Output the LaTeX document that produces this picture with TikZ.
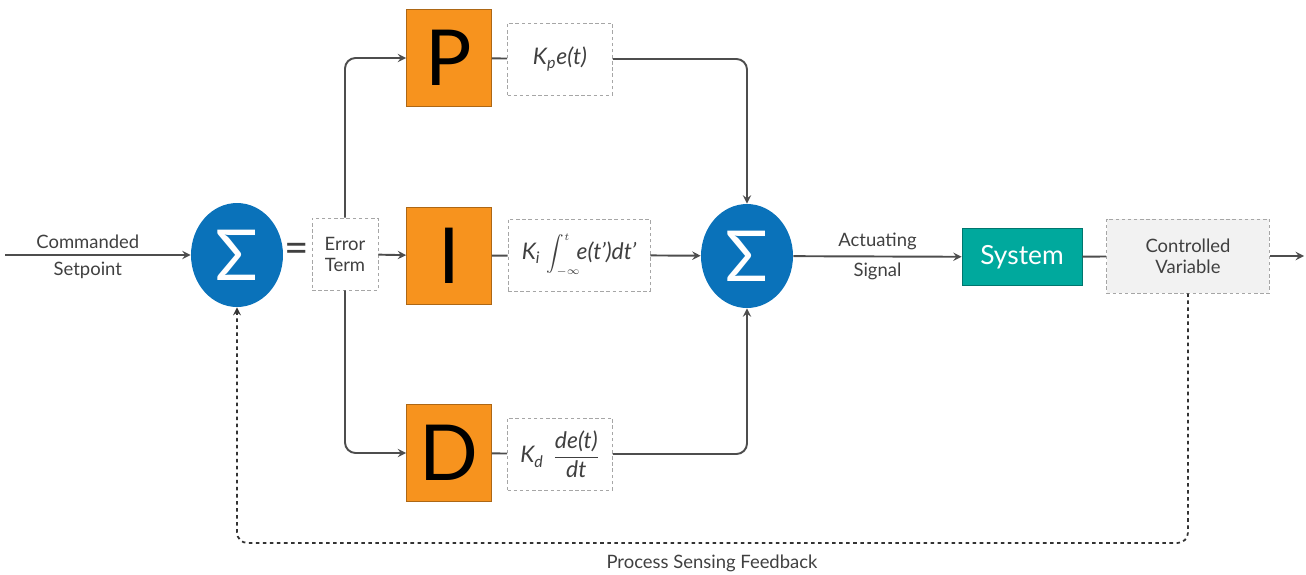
\documentclass[tikz,border=0pt]{standalone}
\usepackage{fontspec}
\setmainfont{Lato}
\usetikzlibrary{shapes,arrows,positioning,calc}
\definecolor{sumblue}{HTML}{0A72BA}
\definecolor{pidorange}{HTML}{F7931E}
\definecolor{systeal}{HTML}{00A99D}
\definecolor{linegray}{HTML}{4D4D4D}
\definecolor{cvgray}{HTML}{F2F2F2}

\begin{document}
\begin{tikzpicture}[
        x=0.02cm, y=-0.02cm,
        summer/.style={ellipse, fill=sumblue, minimum width=1.84cm, minimum height=2.08cm, inner sep=0pt, text=white, font=\fontsize{40}{40}\selectfont},
        term/.style={draw=pidorange!70!black, fill=pidorange, minimum width=1.7cm, minimum height=1.94cm, inner sep=0pt, font=\fontsize{44}{44}\selectfont},
        dashbox/.style={draw=gray!70, dash pattern=on 2pt off 1.5pt, thin, inner sep=0pt, align=center, text=black!75},
        formula/.style={dashbox, minimum width=2.1cm, minimum height=1.44cm, font=\fontsize{13}{15}\selectfont\itshape},
        sysbox/.style={draw=systeal!70!black, fill=systeal, minimum width=2.4cm, minimum height=1.14cm, inner sep=0pt, text=white, font=\fontsize{15}{17}\selectfont},
        txt/.style={font=\fontsize{10.5}{12}\selectfont, text=black!75},
        wire/.style={draw=linegray, line width=1.1pt},
        msg/.style={wire, ->, >=stealth},
        feedback/.style={draw=black!80, line width=1pt, dash pattern=on 2pt off 2pt, rounded corners=6pt, ->, >=stealth}
    ]
        \useasboundingbox (0,0) rectangle (1306,575);

        % Summing junctions
        \node (sum1) [summer] at (237,255) {Σ};
        \node (eq) [font=\fontsize{24}{24}\selectfont, text=black!75] at (297,253) {=};
        \node (err) [dashbox, txt, minimum width=1.32cm, minimum height=1.44cm] at (345,254) {Error\\Term};
        \node (sum2) [summer] at (747,256) {Σ};

        % P, I and D terms
        \node (P) [term] at (449,58) {P};
        \node (I) [term] at (449,256) {I};
        \node (D) [term] at (449,453) {D};

        \node (kp) [formula] at (560,59) {K\textsubscript{p}e(t)};
        \node (ki) [formula, minimum width=2.84cm] at (579,255) {K\textsubscript{i}\;$\displaystyle\int_{\scriptscriptstyle-\infty}^{\scriptscriptstyle t}$\!e(t')dt'};
        \node (kd) [formula] at (560,454) {K\textsubscript{d}\, $\displaystyle\frac{\textit{de(t)}}{\textit{dt}}$};

        % Plant
        \node (sys) [sysbox] at (1022,257) {System};
        \node (cv) [dashbox, txt, fill=cvgray, minimum width=3.26cm, minimum height=1.48cm] at (1188,256) {Controlled\\Variable};

        \coordinate (in) at (5,255);
        \coordinate (out) at (1304,256);
        \coordinate (fb) at (712,543);

        % Forward path
        \draw [msg] (in) -- node[txt, above, xshift=-0.2cm] {Commanded} node[txt, below, xshift=-0.2cm] {Setpoint} (sum1);
        \draw [msg] (err) -- (I);
        \draw [msg, rounded corners=6pt] (err.north) |- (P);
        \draw [msg, rounded corners=6pt] (err.south) |- (D);
        \draw [wire] (P) -- (kp);
        \draw [wire] (I) -- (ki);
        \draw [wire] (D) -- (kd);
        \draw [msg, rounded corners=6pt] (kp) -| (sum2);
        \draw [msg, rounded corners=6pt] (kd) -| (sum2);
        \draw [msg] (ki) -- (sum2);
        \draw [msg] (sum2) -- node[txt, above] {Actuating} node[txt, below] {Signal} (sys);
        \draw [wire] (sys) -- (cv);
        \draw [msg] (cv) -- (out);

        % Feedback
        \draw [feedback] (cv.south) |- (fb) -| (sum1.south);
        \node (fblabel) [txt, below=0.12cm of fb] {Process Sensing Feedback};

    \end{tikzpicture}
\end{document}
